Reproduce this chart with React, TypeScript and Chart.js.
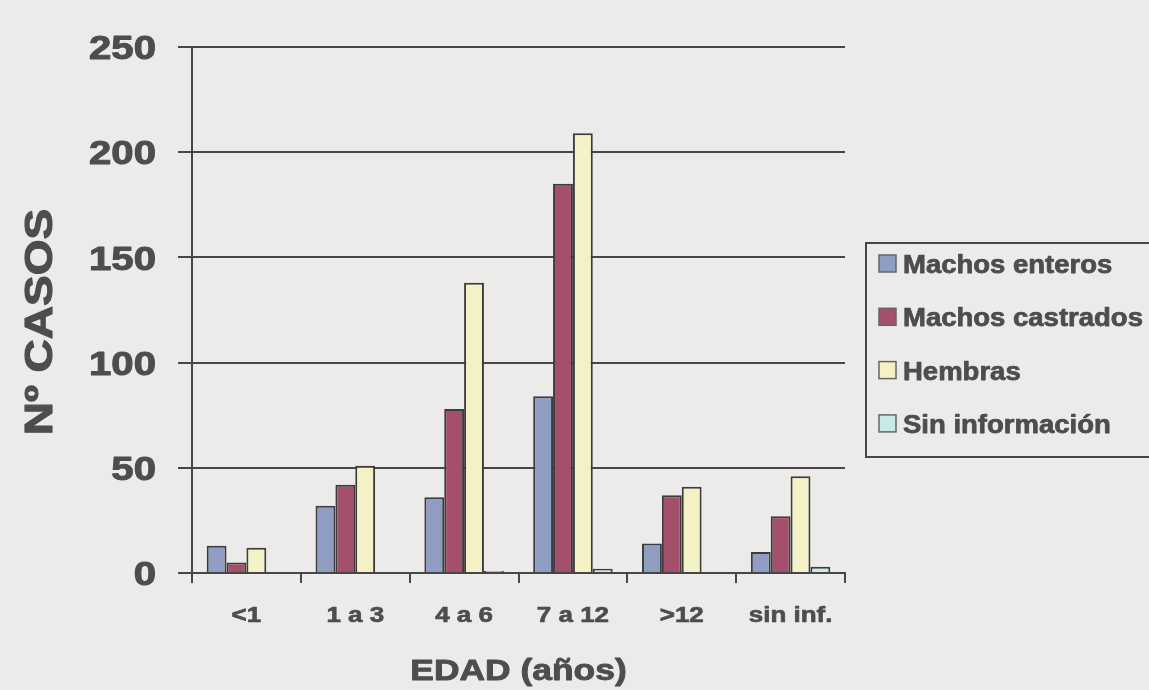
import { useEffect, useRef } from "react";
import { Chart, registerables } from "chart.js";

Chart.register(...registerables);

// Age groups and case counts per sex/neuter status
const categories = ["<1", "1 a 3", "4 a 6", "7 a 12", ">12", "sin inf."];
const machosEnteros = [13, 32, 36, 84, 14, 10];
const machosCastrados = [5, 42, 78, 185, 37, 27];
const hembras = [12, 51, 138, 209, 41, 46];
const sinInformacion = [0, 0, 1, 2, 0, 3];

const seriesNames = ["Machos enteros", "Machos castrados", "Hembras", "Sin información"];
const seriesColors = ["#8f9dc3", "#a44f6b", "#f4f1c6", "#c8eae8"];
const yTickValues = [0, 50, 100, 150, 200, 250];

const yTitle = "Nº CASOS";
const xTitle = "EDAD (años)";

const FONT = '"Liberation Sans", Arial, sans-serif';
const INK = "#4d4d4d";
const LINE = "#474747";
const STRETCH = 1.18;

function wideText(
  ctx: CanvasRenderingContext2D,
  text: string,
  x: number,
  y: number,
  size: number,
  sx: number,
  align: CanvasTextAlign,
  rotate = 0
) {
  ctx.save();
  ctx.translate(x, y);
  if (rotate) ctx.rotate(rotate);
  ctx.scale(sx, 1);
  ctx.font = `bold ${size}px ${FONT}`;
  ctx.textAlign = align;
  ctx.textBaseline = "alphabetic";
  ctx.fillStyle = INK;
  ctx.strokeStyle = INK;
  ctx.lineWidth = size * 0.03;
  ctx.lineJoin = "round";
  ctx.fillText(text, 0, 0);
  ctx.strokeText(text, 0, 0);
  ctx.restore();
}

// Draws axis labels, titles and the boxed legend with a slightly widened bold face
const textPlugin = {
  id: "wideLabels",
  afterDraw(chart: any) {
    const ctx: CanvasRenderingContext2D = chart.ctx;
    const xs = chart.scales.x;
    const ys = chart.scales.y;
    const area = chart.chartArea;

    // y tick labels
    const ySize = 34;
    ys.ticks.forEach((t: any) => {
      const py = ys.getPixelForValue(t.value);
      wideText(ctx, String(t.value), 156, py + ySize * 0.358, ySize, STRETCH, "right");
    });

    // x tick labels
    categories.forEach((c, i) => {
      const px = xs.getPixelForValue(i);
      wideText(ctx, c, px, 622, 22, STRETCH, "center");
    });

    // axis titles
    wideText(ctx, yTitle, 52, (area.top + area.bottom) / 2 + 12, 39, STRETCH, "center", -Math.PI / 2);
    wideText(ctx, xTitle, (area.left + area.right) / 2, 680, 30, STRETCH, "center");

    // legend box
    ctx.save();
    ctx.strokeStyle = LINE;
    ctx.lineWidth = 2;
    ctx.strokeRect(866, 243, 400, 214);
    chart.data.datasets.forEach((ds: any, i: number) => {
      const cy = 264 + i * 53.3;
      ctx.fillStyle = ds.backgroundColor;
      ctx.fillRect(879, cy - 9, 17, 17);
      ctx.lineWidth = 1.5;
      ctx.strokeStyle = "#666";
      ctx.strokeRect(879, cy - 9, 17, 17);
      wideText(ctx, ds.label, 903, cy + 9, 25, 1.1, "left");
    });
    ctx.restore();
  },
};

export default function App() {
  const canvasRef = useRef<HTMLCanvasElement | null>(null);

  useEffect(() => {
    if (!canvasRef.current) return;
    const values = [machosEnteros, machosCastrados, hembras, sinInformacion];
    const chart = new Chart(canvasRef.current, {
      type: "bar",
      data: {
        labels: categories,
        datasets: values.map((v, i) => ({
          label: seriesNames[i],
          data: v,
          backgroundColor: seriesColors[i],
          borderColor: "#3c3c3c",
          borderWidth: 2,
          categoryPercentage: 0.73,
          barPercentage: 1,
        })),
      },
      options: {
        responsive: false,
        animation: false,
        layout: { padding: { top: 47, right: 304, bottom: 0, left: 0 } },
        plugins: {
          legend: { display: false },
          tooltip: { enabled: false },
          title: { display: false },
        },
        scales: {
          x: {
            grid: {
              display: true,
              drawOnChartArea: false,
              drawTicks: true,
              tickLength: 10,
              color: LINE,
              lineWidth: 2,
              offset: true,
            },
            border: { display: true, color: LINE, width: 2 },
            ticks: { display: false },
            afterFit: (s: any) => {
              s.height = 117;
            },
          },
          y: {
            min: 0,
            max: 250,
            afterBuildTicks: (s: any) => {
              s.ticks = yTickValues.map((v) => ({ value: v }));
            },
            ticks: { display: false },
            grid: { color: LINE, lineWidth: 2, drawTicks: true, tickLength: 14 },
            border: { display: true, color: LINE, width: 2 },
            afterFit: (s: any) => {
              s.width = 192;
            },
          },
        },
      },
      plugins: [textPlugin],
    });
    return () => chart.destroy();
  }, []);

  return (
    <div
      style={{
        position: "fixed",
        left: 0,
        top: 0,
        width: 1149,
        height: 690,
        background: "#ecebe9",
      }}
    >
      <canvas ref={canvasRef} width={1149} height={690} />
    </div>
  );
}
